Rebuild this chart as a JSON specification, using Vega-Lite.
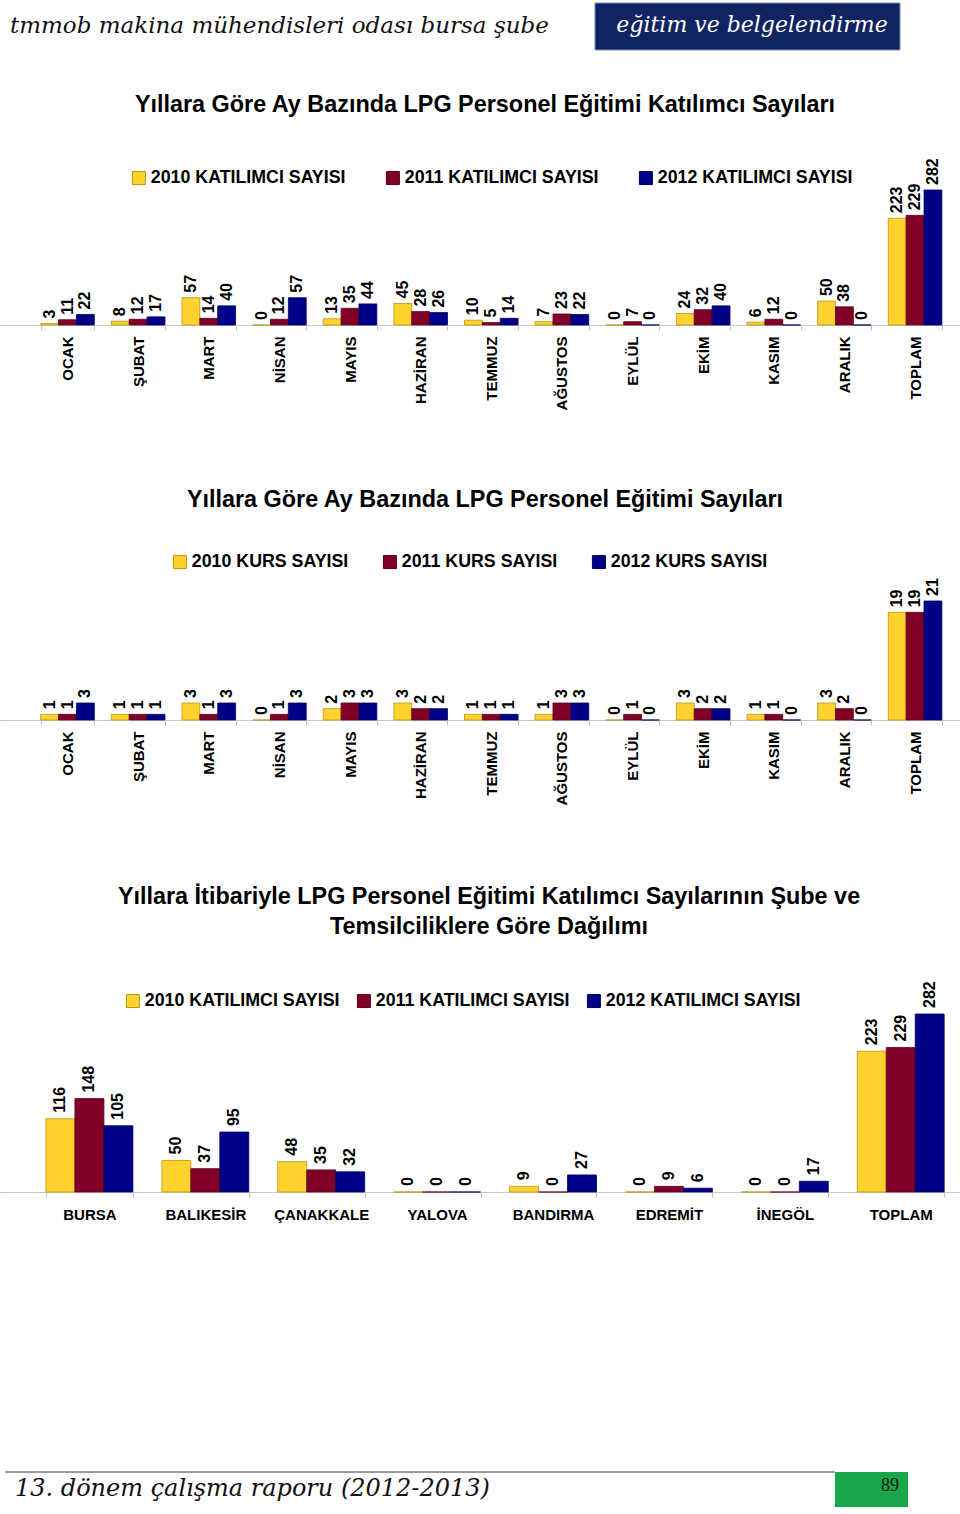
{
  "$schema": "https://vega.github.io/schema/vega-lite/v6.json",
  "padding": {"left": -7, "top": 0, "right": 0, "bottom": 0},
  "spacing": 0,
  "bounds": "flush",
  "autosize": {"type": "pad"},
  "background": "white",
  "config": {
    "view": {"stroke": null},
    "font": "Liberation Sans",
    "title": {"font": "Liberation Sans", "fontSize": 23.4, "fontWeight": "bold", "color": "#000000", "frame": "group", "anchor": "middle"},
    "axis": {"labelFont": "Liberation Sans", "labelFontSize": 15, "labelFontWeight": "bold", "labelColor": "#000000", "domainColor": "#c8c8c8", "tickColor": "#c0c0c0", "tickSize": 5, "labelLimit": 300, "labelOverlap": false, "grid": false},
    "legend": {"labelFont": "Liberation Sans", "labelFontSize": 17.8, "labelFontWeight": "bold", "labelColor": "#000000", "symbolType": "square", "symbolSize": 169, "symbolStrokeWidth": 1, "symbolStrokeColor": "#7a6a20", "labelOffset": 3, "padding": 0, "labelLimit": 400}
  },
  "resolve": {
    "scale": {"color": "independent", "stroke": "independent", "xOffset": "independent", "x": "independent", "y": "independent"},
    "legend": {"color": "independent"}
  },
  "datasets": {
    "ust": [
      {"metin": "tmmob makina mühendisleri odası bursa şube", "bolum": "kurum"},
      {"metin": "eğitim ve belgelendirme", "bolum": "birim"}
    ],
    "alt": [
      {"metin": "13. dönem çalışma raporu (2012-2013)", "bolum": "rapor"},
      {"metin": "89", "bolum": "sayfa"}
    ],
    "aylik_katilimci": [
      {"ay": "OCAK", "seri": "2010 KATILIMCI SAYISI", "sayi": 3},
      {"ay": "OCAK", "seri": "2011 KATILIMCI SAYISI", "sayi": 11},
      {"ay": "OCAK", "seri": "2012 KATILIMCI SAYISI", "sayi": 22},
      {"ay": "ŞUBAT", "seri": "2010 KATILIMCI SAYISI", "sayi": 8},
      {"ay": "ŞUBAT", "seri": "2011 KATILIMCI SAYISI", "sayi": 12},
      {"ay": "ŞUBAT", "seri": "2012 KATILIMCI SAYISI", "sayi": 17},
      {"ay": "MART", "seri": "2010 KATILIMCI SAYISI", "sayi": 57},
      {"ay": "MART", "seri": "2011 KATILIMCI SAYISI", "sayi": 14},
      {"ay": "MART", "seri": "2012 KATILIMCI SAYISI", "sayi": 40},
      {"ay": "NİSAN", "seri": "2010 KATILIMCI SAYISI", "sayi": 0},
      {"ay": "NİSAN", "seri": "2011 KATILIMCI SAYISI", "sayi": 12},
      {"ay": "NİSAN", "seri": "2012 KATILIMCI SAYISI", "sayi": 57},
      {"ay": "MAYIS", "seri": "2010 KATILIMCI SAYISI", "sayi": 13},
      {"ay": "MAYIS", "seri": "2011 KATILIMCI SAYISI", "sayi": 35},
      {"ay": "MAYIS", "seri": "2012 KATILIMCI SAYISI", "sayi": 44},
      {"ay": "HAZİRAN", "seri": "2010 KATILIMCI SAYISI", "sayi": 45},
      {"ay": "HAZİRAN", "seri": "2011 KATILIMCI SAYISI", "sayi": 28},
      {"ay": "HAZİRAN", "seri": "2012 KATILIMCI SAYISI", "sayi": 26},
      {"ay": "TEMMUZ", "seri": "2010 KATILIMCI SAYISI", "sayi": 10},
      {"ay": "TEMMUZ", "seri": "2011 KATILIMCI SAYISI", "sayi": 5},
      {"ay": "TEMMUZ", "seri": "2012 KATILIMCI SAYISI", "sayi": 14},
      {"ay": "AĞUSTOS", "seri": "2010 KATILIMCI SAYISI", "sayi": 7},
      {"ay": "AĞUSTOS", "seri": "2011 KATILIMCI SAYISI", "sayi": 23},
      {"ay": "AĞUSTOS", "seri": "2012 KATILIMCI SAYISI", "sayi": 22},
      {"ay": "EYLÜL", "seri": "2010 KATILIMCI SAYISI", "sayi": 0},
      {"ay": "EYLÜL", "seri": "2011 KATILIMCI SAYISI", "sayi": 7},
      {"ay": "EYLÜL", "seri": "2012 KATILIMCI SAYISI", "sayi": 0},
      {"ay": "EKİM", "seri": "2010 KATILIMCI SAYISI", "sayi": 24},
      {"ay": "EKİM", "seri": "2011 KATILIMCI SAYISI", "sayi": 32},
      {"ay": "EKİM", "seri": "2012 KATILIMCI SAYISI", "sayi": 40},
      {"ay": "KASIM", "seri": "2010 KATILIMCI SAYISI", "sayi": 6},
      {"ay": "KASIM", "seri": "2011 KATILIMCI SAYISI", "sayi": 12},
      {"ay": "KASIM", "seri": "2012 KATILIMCI SAYISI", "sayi": 0},
      {"ay": "ARALIK", "seri": "2010 KATILIMCI SAYISI", "sayi": 50},
      {"ay": "ARALIK", "seri": "2011 KATILIMCI SAYISI", "sayi": 38},
      {"ay": "ARALIK", "seri": "2012 KATILIMCI SAYISI", "sayi": 0},
      {"ay": "TOPLAM", "seri": "2010 KATILIMCI SAYISI", "sayi": 223},
      {"ay": "TOPLAM", "seri": "2011 KATILIMCI SAYISI", "sayi": 229},
      {"ay": "TOPLAM", "seri": "2012 KATILIMCI SAYISI", "sayi": 282}
    ],
    "aylik_kurs": [
      {"ay": "OCAK", "seri": "2010 KURS SAYISI", "sayi": 1},
      {"ay": "OCAK", "seri": "2011 KURS SAYISI", "sayi": 1},
      {"ay": "OCAK", "seri": "2012 KURS SAYISI", "sayi": 3},
      {"ay": "ŞUBAT", "seri": "2010 KURS SAYISI", "sayi": 1},
      {"ay": "ŞUBAT", "seri": "2011 KURS SAYISI", "sayi": 1},
      {"ay": "ŞUBAT", "seri": "2012 KURS SAYISI", "sayi": 1},
      {"ay": "MART", "seri": "2010 KURS SAYISI", "sayi": 3},
      {"ay": "MART", "seri": "2011 KURS SAYISI", "sayi": 1},
      {"ay": "MART", "seri": "2012 KURS SAYISI", "sayi": 3},
      {"ay": "NİSAN", "seri": "2010 KURS SAYISI", "sayi": 0},
      {"ay": "NİSAN", "seri": "2011 KURS SAYISI", "sayi": 1},
      {"ay": "NİSAN", "seri": "2012 KURS SAYISI", "sayi": 3},
      {"ay": "MAYIS", "seri": "2010 KURS SAYISI", "sayi": 2},
      {"ay": "MAYIS", "seri": "2011 KURS SAYISI", "sayi": 3},
      {"ay": "MAYIS", "seri": "2012 KURS SAYISI", "sayi": 3},
      {"ay": "HAZİRAN", "seri": "2010 KURS SAYISI", "sayi": 3},
      {"ay": "HAZİRAN", "seri": "2011 KURS SAYISI", "sayi": 2},
      {"ay": "HAZİRAN", "seri": "2012 KURS SAYISI", "sayi": 2},
      {"ay": "TEMMUZ", "seri": "2010 KURS SAYISI", "sayi": 1},
      {"ay": "TEMMUZ", "seri": "2011 KURS SAYISI", "sayi": 1},
      {"ay": "TEMMUZ", "seri": "2012 KURS SAYISI", "sayi": 1},
      {"ay": "AĞUSTOS", "seri": "2010 KURS SAYISI", "sayi": 1},
      {"ay": "AĞUSTOS", "seri": "2011 KURS SAYISI", "sayi": 3},
      {"ay": "AĞUSTOS", "seri": "2012 KURS SAYISI", "sayi": 3},
      {"ay": "EYLÜL", "seri": "2010 KURS SAYISI", "sayi": 0},
      {"ay": "EYLÜL", "seri": "2011 KURS SAYISI", "sayi": 1},
      {"ay": "EYLÜL", "seri": "2012 KURS SAYISI", "sayi": 0},
      {"ay": "EKİM", "seri": "2010 KURS SAYISI", "sayi": 3},
      {"ay": "EKİM", "seri": "2011 KURS SAYISI", "sayi": 2},
      {"ay": "EKİM", "seri": "2012 KURS SAYISI", "sayi": 2},
      {"ay": "KASIM", "seri": "2010 KURS SAYISI", "sayi": 1},
      {"ay": "KASIM", "seri": "2011 KURS SAYISI", "sayi": 1},
      {"ay": "KASIM", "seri": "2012 KURS SAYISI", "sayi": 0},
      {"ay": "ARALIK", "seri": "2010 KURS SAYISI", "sayi": 3},
      {"ay": "ARALIK", "seri": "2011 KURS SAYISI", "sayi": 2},
      {"ay": "ARALIK", "seri": "2012 KURS SAYISI", "sayi": 0},
      {"ay": "TOPLAM", "seri": "2010 KURS SAYISI", "sayi": 19},
      {"ay": "TOPLAM", "seri": "2011 KURS SAYISI", "sayi": 19},
      {"ay": "TOPLAM", "seri": "2012 KURS SAYISI", "sayi": 21}
    ],
    "sube_katilimci": [
      {"sube": "BURSA", "seri": "2010 KATILIMCI SAYISI", "sayi": 116},
      {"sube": "BURSA", "seri": "2011 KATILIMCI SAYISI", "sayi": 148},
      {"sube": "BURSA", "seri": "2012 KATILIMCI SAYISI", "sayi": 105},
      {"sube": "BALIKESİR", "seri": "2010 KATILIMCI SAYISI", "sayi": 50},
      {"sube": "BALIKESİR", "seri": "2011 KATILIMCI SAYISI", "sayi": 37},
      {"sube": "BALIKESİR", "seri": "2012 KATILIMCI SAYISI", "sayi": 95},
      {"sube": "ÇANAKKALE", "seri": "2010 KATILIMCI SAYISI", "sayi": 48},
      {"sube": "ÇANAKKALE", "seri": "2011 KATILIMCI SAYISI", "sayi": 35},
      {"sube": "ÇANAKKALE", "seri": "2012 KATILIMCI SAYISI", "sayi": 32},
      {"sube": "YALOVA", "seri": "2010 KATILIMCI SAYISI", "sayi": 0},
      {"sube": "YALOVA", "seri": "2011 KATILIMCI SAYISI", "sayi": 0},
      {"sube": "YALOVA", "seri": "2012 KATILIMCI SAYISI", "sayi": 0},
      {"sube": "BANDIRMA", "seri": "2010 KATILIMCI SAYISI", "sayi": 9},
      {"sube": "BANDIRMA", "seri": "2011 KATILIMCI SAYISI", "sayi": 0},
      {"sube": "BANDIRMA", "seri": "2012 KATILIMCI SAYISI", "sayi": 27},
      {"sube": "EDREMİT", "seri": "2010 KATILIMCI SAYISI", "sayi": 0},
      {"sube": "EDREMİT", "seri": "2011 KATILIMCI SAYISI", "sayi": 9},
      {"sube": "EDREMİT", "seri": "2012 KATILIMCI SAYISI", "sayi": 6},
      {"sube": "İNEGÖL", "seri": "2010 KATILIMCI SAYISI", "sayi": 0},
      {"sube": "İNEGÖL", "seri": "2011 KATILIMCI SAYISI", "sayi": 0},
      {"sube": "İNEGÖL", "seri": "2012 KATILIMCI SAYISI", "sayi": 17},
      {"sube": "TOPLAM", "seri": "2010 KATILIMCI SAYISI", "sayi": 223},
      {"sube": "TOPLAM", "seri": "2011 KATILIMCI SAYISI", "sayi": 229},
      {"sube": "TOPLAM", "seri": "2012 KATILIMCI SAYISI", "sayi": 282}
    ]
  },
  "vconcat": [
    {
      "width": 960,
      "height": 190,
      "data": {"name": "ust"},
      "layer": [
        {
          "transform": [{"filter": "datum.bolum === 'birim'"}],
          "mark": {"type": "rect", "color": "#0f2460", "stroke": "#7f8fb0", "strokeWidth": 1},
          "encoding": {
            "x": {"datum": 595, "type": "quantitative", "scale": {"domain": [0, 960], "nice": false, "zero": false}, "axis": null},
            "x2": {"datum": 900},
            "y": {"datum": 3, "type": "quantitative", "scale": {"domain": [0, 190], "nice": false, "reverse": true}, "axis": null},
            "y2": {"datum": 50}
          }
        },
        {
          "transform": [{"filter": "datum.bolum === 'kurum'"}],
          "mark": {"type": "text", "align": "left", "baseline": "middle", "font": "DejaVu Serif", "fontStyle": "italic", "fontSize": 23, "color": "#111111"},
          "encoding": {
            "x": {"datum": 10, "type": "quantitative"},
            "y": {"datum": 26, "type": "quantitative"},
            "text": {"field": "metin"}
          }
        },
        {
          "transform": [{"filter": "datum.bolum === 'birim'"}],
          "mark": {"type": "text", "align": "center", "baseline": "middle", "font": "DejaVu Serif", "fontStyle": "italic", "fontSize": 22, "color": "#ffffff"},
          "encoding": {
            "x": {"datum": 752, "type": "quantitative"},
            "y": {"datum": 25, "type": "quantitative"},
            "text": {"field": "metin"}
          }
        }
      ]
    },
    {
      "width": 960,
      "height": 135,
      "data": {"name": "aylik_katilimci"},
      "title": {"text": "Yıllara Göre Ay Bazında LPG Personel Eğitimi Katılımcı Sayıları", "offset": 41, "dx": 5},
      "encoding": {
        "x": {"field": "ay", "type": "nominal", "sort": null, "scale": {"paddingInner": 0.241, "paddingOuter": 0.4165, "align": 0.692, "round": false}, "axis": {"title": null, "labelAngle": 270, "tickBand": "extent", "labelPadding": 6}},
        "xOffset": {"field": "seri", "type": "nominal", "sort": null},
        "y": {"field": "sayi", "type": "quantitative", "scale": {"domain": [0, 282], "nice": false}, "axis": null}
      },
      "layer": [
        {
          "mark": {"type": "bar", "strokeWidth": 0.8},
          "encoding": {
            "color": {"field": "seri", "type": "nominal", "sort": null, "scale": {"range": ["#FFD22E", "#800026", "#000088"]}, "legend": {"title": null, "orient": "none", "legendX": 130, "legendY": -21, "direction": "horizontal", "columnPadding": 38}},
            "stroke": {"field": "seri", "type": "nominal", "sort": null, "scale": {"range": ["#B8960C", "#5C001A", "#000060"]}, "legend": null}
          }
        },
        {
          "mark": {"type": "text", "angle": 270, "align": "left", "baseline": "middle", "dx": 5, "fontSize": 16, "fontWeight": "bold", "color": "#000000"},
          "encoding": {"text": {"field": "sayi", "type": "quantitative"}}
        }
      ]
    },
    {
      "width": 960,
      "height": 276,
      "data": {"values": []},
      "mark": "point"
    },
    {
      "width": 960,
      "height": 119,
      "data": {"name": "aylik_kurs"},
      "title": {"text": "Yıllara Göre Ay Bazında LPG Personel Eğitimi Sayıları", "offset": 41, "dx": 5},
      "encoding": {
        "x": {"field": "ay", "type": "nominal", "sort": null, "scale": {"paddingInner": 0.241, "paddingOuter": 0.4165, "align": 0.692, "round": false}, "axis": {"title": null, "labelAngle": 270, "tickBand": "extent", "labelPadding": 6}},
        "xOffset": {"field": "seri", "type": "nominal", "sort": null},
        "y": {"field": "sayi", "type": "quantitative", "scale": {"domain": [0, 21], "nice": false}, "axis": null}
      },
      "layer": [
        {
          "mark": {"type": "bar", "strokeWidth": 0.8},
          "encoding": {
            "color": {"field": "seri", "type": "nominal", "sort": null, "scale": {"range": ["#FFD22E", "#800026", "#000088"]}, "legend": {"title": null, "orient": "none", "legendX": 171, "legendY": -48, "direction": "horizontal", "columnPadding": 32}},
            "stroke": {"field": "seri", "type": "nominal", "sort": null, "scale": {"range": ["#B8960C", "#5C001A", "#000060"]}, "legend": null}
          }
        },
        {
          "mark": {"type": "text", "angle": 270, "align": "left", "baseline": "middle", "dx": 5, "fontSize": 16, "fontWeight": "bold", "color": "#000000"},
          "encoding": {"text": {"field": "sayi", "type": "quantitative"}}
        }
      ]
    },
    {
      "width": 960,
      "height": 294,
      "data": {"values": []},
      "mark": "point"
    },
    {
      "width": 960,
      "height": 178,
      "data": {"name": "sube_katilimci"},
      "title": {"text": ["Yıllara İtibariyle LPG Personel Eğitimi Katılımcı Sayılarının Şube ve", "Temsilciliklere Göre Dağılımı"], "offset": 42, "dx": 9, "lineHeight": 30},
      "encoding": {
        "x": {"field": "sube", "type": "nominal", "sort": null, "scale": {"paddingInner": 0.25, "paddingOuter": 0.2665, "align": 0.744, "round": false}, "axis": {"title": null, "labelAngle": 0, "tickBand": "extent", "labelPadding": 10}},
        "xOffset": {"field": "seri", "type": "nominal", "sort": null},
        "y": {"field": "sayi", "type": "quantitative", "scale": {"domain": [0, 282], "nice": false}, "axis": null}
      },
      "layer": [
        {
          "mark": {"type": "bar", "strokeWidth": 0.8},
          "encoding": {
            "color": {"field": "seri", "type": "nominal", "sort": null, "scale": {"range": ["#FFD22E", "#800026", "#000088"]}, "legend": {"title": null, "orient": "none", "legendX": 124, "legendY": -22, "direction": "horizontal", "columnPadding": 15}},
            "stroke": {"field": "seri", "type": "nominal", "sort": null, "scale": {"range": ["#B8960C", "#5C001A", "#000060"]}, "legend": null}
          }
        },
        {
          "mark": {"type": "text", "angle": 270, "align": "left", "baseline": "middle", "dx": 6, "fontSize": 16, "fontWeight": "bold", "color": "#000000"},
          "encoding": {"text": {"field": "sayi", "type": "quantitative"}}
        }
      ]
    },
    {
      "width": 960,
      "height": 278,
      "data": {"values": []},
      "mark": "point"
    },
    {
      "width": 960,
      "height": 44,
      "data": {"name": "alt"},
      "layer": [
        {
          "transform": [{"filter": "datum.bolum === 'rapor'"}],
          "mark": {"type": "rule", "color": "#9a9a9a", "strokeWidth": 2},
          "encoding": {
            "x": {"datum": 5, "type": "quantitative", "scale": {"domain": [0, 960], "nice": false, "zero": false}, "axis": null},
            "x2": {"datum": 835},
            "y": {"datum": 2, "type": "quantitative", "scale": {"domain": [0, 44], "nice": false, "reverse": true}, "axis": null}
          }
        },
        {
          "transform": [{"filter": "datum.bolum === 'sayfa'"}],
          "mark": {"type": "rect", "color": "#1aa64a"},
          "encoding": {
            "x": {"datum": 835, "type": "quantitative"},
            "x2": {"datum": 908},
            "y": {"datum": 2, "type": "quantitative"},
            "y2": {"datum": 37}
          }
        },
        {
          "transform": [{"filter": "datum.bolum === 'rapor'"}],
          "mark": {"type": "text", "align": "left", "baseline": "middle", "font": "DejaVu Serif", "fontStyle": "italic", "fontSize": 24, "color": "#111111"},
          "encoding": {
            "x": {"datum": 15, "type": "quantitative"},
            "y": {"datum": 19, "type": "quantitative"},
            "text": {"field": "metin"}
          }
        },
        {
          "transform": [{"filter": "datum.bolum === 'sayfa'"}],
          "mark": {"type": "text", "align": "center", "baseline": "middle", "font": "Liberation Sans Narrow", "fontSize": 18, "color": "#1a1a1a"},
          "encoding": {
            "x": {"datum": 890, "type": "quantitative"},
            "y": {"datum": 16, "type": "quantitative"},
            "text": {"field": "metin"}
          }
        }
      ]
    }
  ]
}
